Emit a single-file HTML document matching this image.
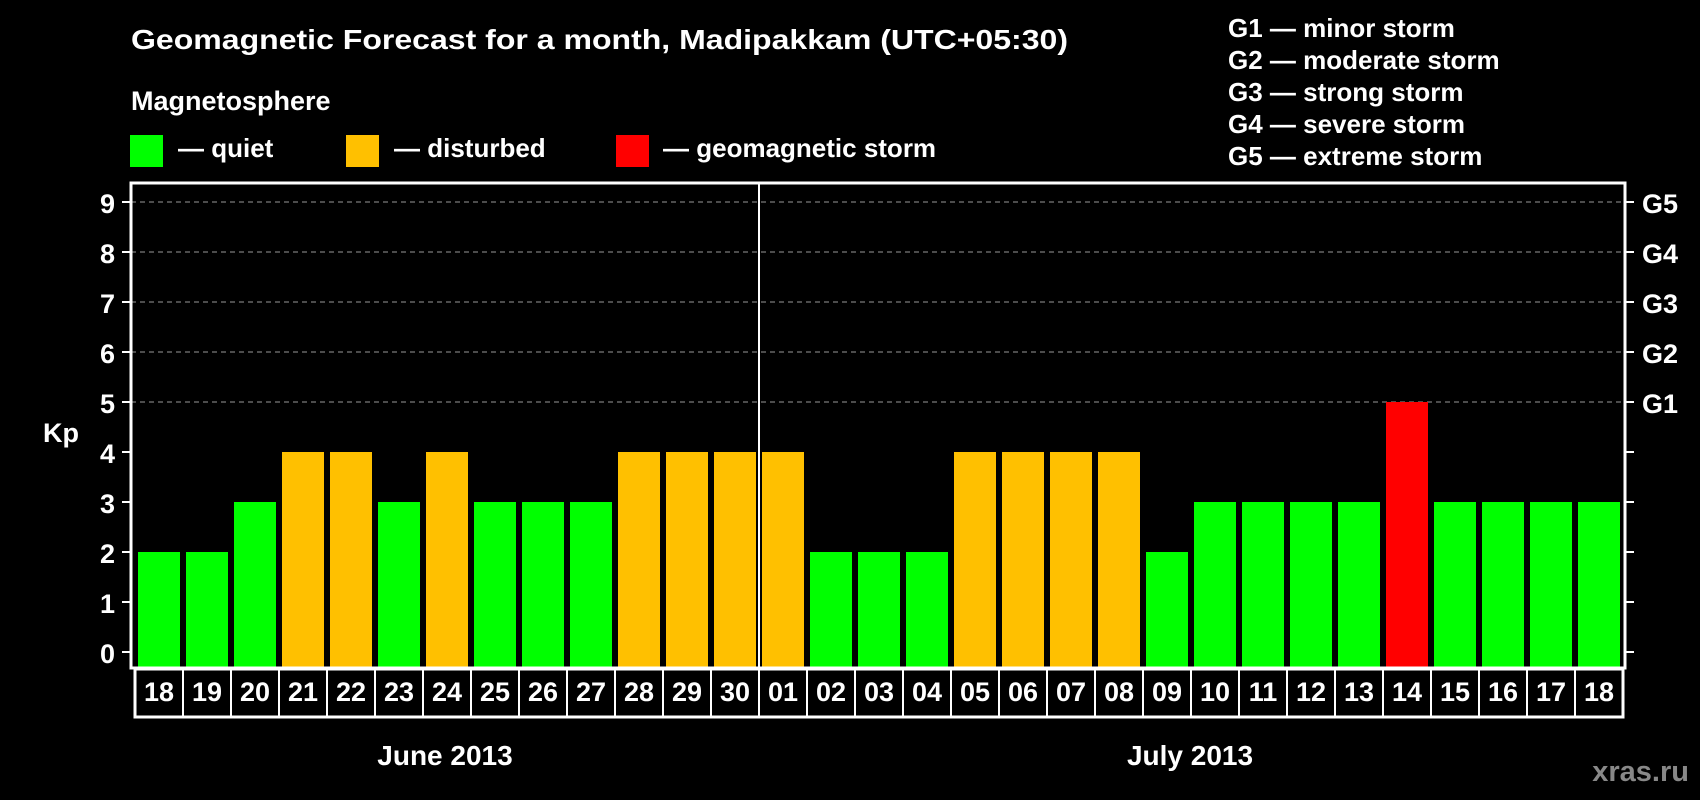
<!DOCTYPE html>
<html><head><meta charset="utf-8"><style>
html,body{margin:0;padding:0;background:#000;}
svg{display:block;font-family:"Liberation Sans",Arial,sans-serif;font-weight:bold;}
</style></head><body>
<svg id="chart" width="1700" height="800" viewBox="0 0 1700 800" xmlns="http://www.w3.org/2000/svg">
<rect x="0" y="0" width="1700" height="800" fill="#000"/>
<text x="131" y="49" font-size="28" fill="#fff" textLength="937" lengthAdjust="spacingAndGlyphs">Geomagnetic Forecast for a month, Madipakkam (UTC+05:30)</text>
<text x="131" y="110" font-size="27" fill="#fff">Magnetosphere</text>
<rect x="130" y="135" width="33" height="32" fill="#00ff00"/>
<text x="178" y="157" font-size="26" fill="#fff">— quiet</text>
<rect x="346" y="135" width="33" height="32" fill="#ffc000"/>
<text x="394" y="157" font-size="26" fill="#fff">— disturbed</text>
<rect x="616" y="135" width="33" height="32" fill="#ff0000"/>
<text x="663" y="157" font-size="26" fill="#fff">— geomagnetic storm</text>
<g font-size="26" fill="#fff">
<text x="1228" y="37">G1 — minor storm</text>
<text x="1228" y="69">G2 — moderate storm</text>
<text x="1228" y="101">G3 — strong storm</text>
<text x="1228" y="133">G4 — severe storm</text>
<text x="1228" y="165">G5 — extreme storm</text>
</g>
<g id="grid"></g>
<g id="bars"></g>
<rect x="131" y="183" width="1494" height="485" fill="none" stroke="#fff" stroke-width="3"/>
<line x1="759" y1="183" x2="759" y2="668" stroke="#fff" stroke-width="2"/>
<g id="ticks"></g>
<g id="dates"></g>
<text x="43" y="442" font-size="27" fill="#fff">Kp</text>
<text x="445" y="765" font-size="28" fill="#fff" text-anchor="middle">June 2013</text>
<text x="1190" y="765" font-size="28" fill="#fff" text-anchor="middle">July 2013</text>
<text x="1689" y="781" font-size="29" fill="#888" text-anchor="end">xras.ru</text>
</svg>
<script>
const days = ["18","19","20","21","22","23","24","25","26","27","28","29","30","01","02","03","04","05","06","07","08","09","10","11","12","13","14","15","16","17","18"];
const kp = [2,2,3,4,4,3,4,3,3,3,4,4,4,4,2,2,2,4,4,4,4,2,3,3,3,3,5,3,3,3,3];
const yTicks = [0,1,2,3,4,5,6,7,8,9];
const gLabels = ["G1","G2","G3","G4","G5"];
const gLevels = [5,6,7,8,9];

const NS = "http://www.w3.org/2000/svg";
const y0 = 652, unit = 50, plotBottom = 668;
const x0 = 138, pitch = 48, barW = 42;
function yScale(v){ return y0 - v*unit; }
function xScale(i){ return x0 + i*pitch; }
function color(v){ return v>=5 ? "#ff0000" : (v>=4 ? "#ffc000" : "#00ff00"); }
function mk(tag, attrs){ const e=document.createElementNS(NS,tag); for(const k in attrs) e.setAttribute(k,attrs[k]); return e; }

const grid=document.getElementById("grid"), ticks=document.getElementById("ticks"), bars=document.getElementById("bars"), dates=document.getElementById("dates");
yTicks.forEach(v=>{
  const y=yScale(v);
  if(v>=5){
    const g=mk("line",{x1:131,x2:1625,y1:y,y2:y,stroke:"#999","stroke-width":1,"stroke-dasharray":"5,4"});
    
    
    grid.appendChild(g);
  }
  const t=mk("line",{x1:122,x2:131,y1:y,y2:y,stroke:"#fff","stroke-width":2});
  
  
  ticks.appendChild(t);
  const t2=mk("line",{x1:1625,x2:1634,y1:y,y2:y,stroke:"#fff","stroke-width":2});
  
  
  ticks.appendChild(t2);
  const l=mk("text",{x:115,y:y+11,"font-size":27,fill:"#fff","text-anchor":"end"});
  l.textContent=v;
  
  
  ticks.appendChild(l);
});
gLevels.forEach((v,i)=>{
  const l=mk("text",{x:1642,y:yScale(v)+11,"font-size":27,fill:"#fff"});
  l.textContent=gLabels[i];
  
  
  ticks.appendChild(l);
});
kp.forEach((v,i)=>{
  const y=yScale(v);
  const r=mk("rect",{x:xScale(i),y:y,width:barW,height:plotBottom-y,fill:color(v)});
  
  
  bars.appendChild(r);
});
const db=mk("rect",{x:135,y:669,width:1488,height:48,fill:"none",stroke:"#fff","stroke-width":3});


dates.appendChild(db);
days.forEach((d,i)=>{
  if(i>0){
    const ln=mk("line",{x1:135+i*pitch,x2:135+i*pitch,y1:669,y2:717,stroke:"#fff","stroke-width":2});
    
    
    dates.appendChild(ln);
  }
  const t=mk("text",{x:xScale(i)+barW/2,y:701,"font-size":27,fill:"#fff","text-anchor":"middle"});
  t.textContent=d;
  
  
  dates.appendChild(t);
});
</script>
</body></html>
